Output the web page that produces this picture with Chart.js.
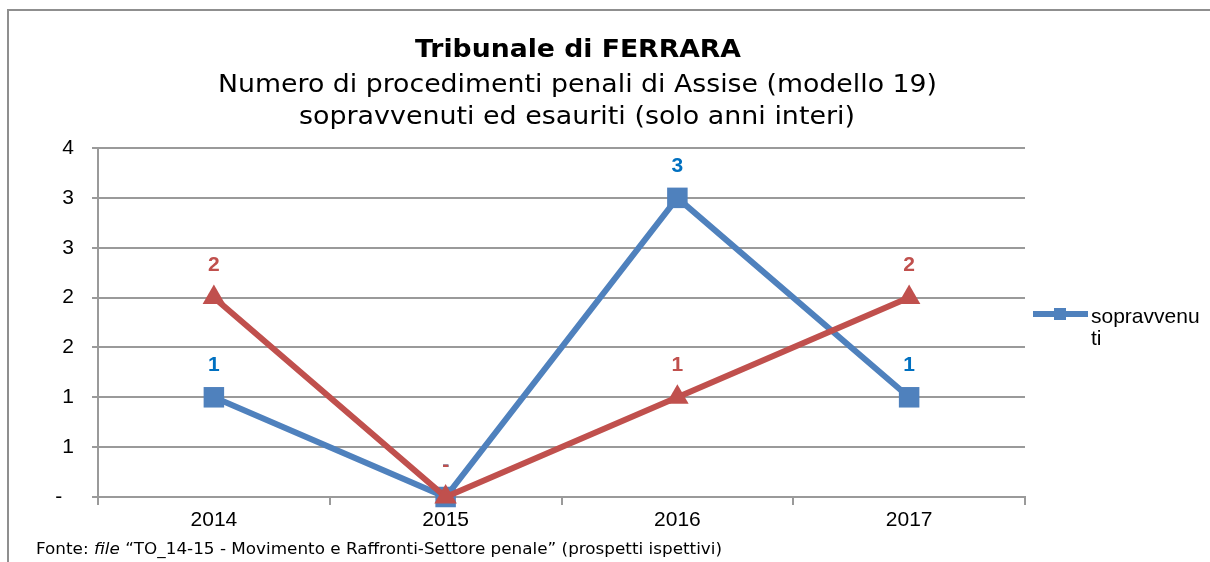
<!DOCTYPE html>
<html><head><meta charset="utf-8">
<script src="https://cdn.jsdelivr.net/npm/chart.js@4/dist/chart.umd.min.js"></script>
<style>
html,body{margin:0;padding:0;background:#fff;}
#wrap{position:relative;width:1210px;height:562px;overflow:hidden;background:#fff;}
#frame{position:absolute;left:7px;top:9px;width:1300px;height:600px;border-top:2px solid #8f8f8f;border-left:2px solid #8f8f8f;box-sizing:border-box;}
canvas{position:absolute;left:0;top:0;}
.t{position:absolute;white-space:nowrap;transform-origin:0 0;color:#000;font-family:"DejaVu Sans",Verdana,sans-serif;}
</style></head>
<body><div id="wrap">
<div id="frame"></div>
<canvas id="c" width="1210" height="562"></canvas>
<div class="t" id="t1" data-x="415" data-w="326" style="top:35px;font-size:24px;line-height:28px;font-weight:bold;">Tribunale di FERRARA</div>
<div class="t" id="t2" data-x="218" data-w="719" style="top:70px;font-size:24px;line-height:28px;">Numero di procedimenti penali di Assise (modello 19)</div>
<div class="t" id="t3" data-x="299" data-w="556" style="top:102px;font-size:24px;line-height:28px;">sopravvenuti ed esauriti (solo anni interi)</div>
<div class="t" id="f1" data-x="36" data-w="686" style="top:540px;font-size:15px;line-height:18px;">Fonte: <i>file</i> “TO_14-15 - Movimento e Raffronti-Settore penale” (prospetti ispettivi)</div>
</div>
<script>
const years = ['2014', '2015', '2016', '2017'];
const sopravvenuti = [1, 0, 3, 1];
const esauriti = [2, 0, 1, 2];
const seriesNames = ['sopravvenuti', 'esauriti'];
const legendLines = ['sopravvenu', 'ti'];
const yTickLabels = ['-', '1', '1', '2', '2', '3', '3', '4'];

// fit HTML text widths
document.querySelectorAll('.t').forEach(el => {
  el.style.left = el.dataset.x + 'px';
  const w = el.getBoundingClientRect().width;
  el.style.transform = 'scaleX(' + (parseFloat(el.dataset.w) / w) + ')';
});

const BLUE = '#4F81BD', RED = '#C0504D';
const LBLUE = '#0070C0', LRED = '#C0504D';
const GRID = '#9a9a9a';
const FONT = '"Liberation Sans", Arial, sans-serif';

const labelPlugin = {
  id: 'vlabels',
  afterDatasetsDraw(chart) {
    const ctx = chart.ctx;
    const colors = [LBLUE, LRED];
    ctx.save();
    ctx.font = 'bold 21px ' + FONT;
    ctx.textAlign = 'center';
    ctx.textBaseline = 'middle';
    [0, 1].forEach(di => {
      const meta = chart.getDatasetMeta(di);
      const vals = chart.data.datasets[di].data;
      ctx.fillStyle = colors[di];
      meta.data.forEach((pt, i) => {
        const v = vals[i];
        ctx.fillText(v === 0 ? '-' : String(v), pt.x, pt.y - 32);
      });
    });
    ctx.restore();
  },
  afterDraw(chart) {
    const ctx = chart.ctx;
    ctx.save();
    ctx.strokeStyle = BLUE;
    ctx.lineWidth = 6;
    ctx.beginPath();
    ctx.moveTo(1033, 314);
    ctx.lineTo(1088, 314);
    ctx.stroke();
    ctx.fillStyle = BLUE;
    ctx.fillRect(1054, 308, 12, 12);
    ctx.fillStyle = '#000';
    ctx.font = '21px ' + FONT;
    ctx.textAlign = 'left';
    ctx.textBaseline = 'alphabetic';
    ctx.fillText(legendLines[0], 1091, 323);
    ctx.fillText(legendLines[1], 1091, 345);
    ctx.restore();
  }
};

new Chart(document.getElementById('c'), {
  type: 'line',
  data: {
    labels: years,
    datasets: [
      {
        label: seriesNames[0], data: sopravvenuti,
        borderColor: BLUE, backgroundColor: BLUE, borderWidth: 6,
        pointStyle: 'rect', pointRadius: 14.5, pointBorderWidth: 0,
        pointBackgroundColor: BLUE, tension: 0, clip: false, order: 1
      },
      {
        label: seriesNames[1], data: esauriti,
        borderColor: RED, backgroundColor: RED, borderWidth: 6,
        pointStyle: 'triangle', pointRadius: 13, pointBorderWidth: 0,
        pointBackgroundColor: RED, tension: 0, clip: false, order: 0
      }
    ]
  },
  options: {
    responsive: false,
    animation: false,
    events: [],
    layout: { padding: { left: 0, top: 148, right: 185, bottom: 0 } },
    plugins: { legend: { display: false }, title: { display: false }, tooltip: { enabled: false } },
    scales: {
      x: {
        offset: true,
        grid: { offset: true, drawOnChartArea: false, drawTicks: true, tickLength: 8, color: GRID, lineWidth: 2 },
        border: { display: true, color: GRID, width: 2 },
        ticks: { color: '#000', font: { family: FONT, size: 21 }, padding: 3, maxRotation: 0 },
        afterFit: s => { s.height = 65; }
      },
      y: {
        min: 0, max: 3.5,
        grid: { color: GRID, lineWidth: 2, tickLength: 6 },
        border: { display: true, color: GRID, width: 2 },
        ticks: {
          stepSize: 0.5, color: '#000', font: { family: FONT, size: 21 }, padding: 18,
          callback: (v, i) => yTickLabels[i] === '-' ? '-  ' : yTickLabels[i]
        },
        afterFit: s => { s.width = 98; }
      }
    }
  },
  plugins: [labelPlugin]
});
</script>
</body></html>
